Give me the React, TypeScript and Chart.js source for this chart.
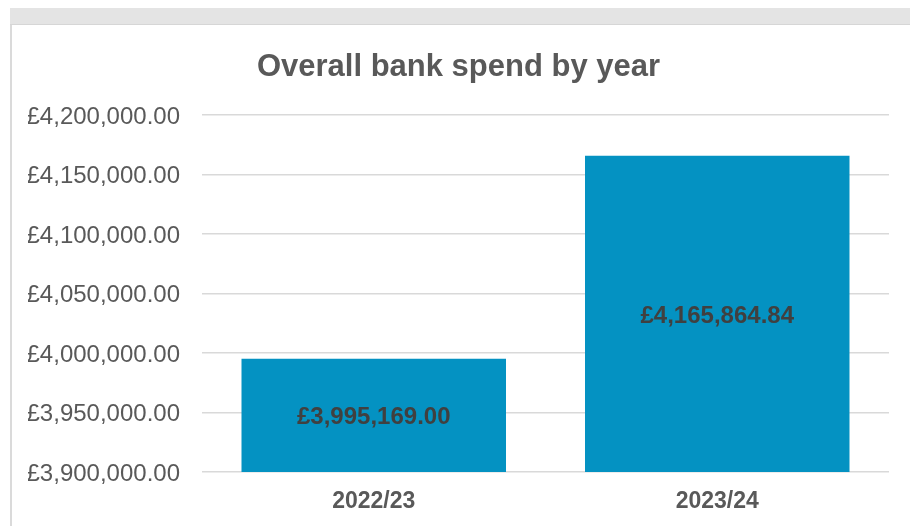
import React, { useEffect, useRef } from "react";
import { Chart, registerables } from "chart.js";

Chart.register(...registerables);

const categories: string[] = ["2022/23", "2023/24"];
const spendValues: number[] = [3995169.0, 4165864.84];
const axisMin = 3900000;
const axisMax = 4200000;
const axisStep = 50000;
const chartTitle = "Overall bank spend by year";

const FONT = "'Liberation Sans', Arial, sans-serif";

const fmt = (v: number) => {
  const fixed = Number(v).toFixed(2);
  const [intPart, dec] = fixed.split(".");
  const withCommas = intPart.replace(/\B(?=(\d{3})+(?!\d))/g, ",");
  return "£" + withCommas + "." + dec;
};

const dataLabelPlugin = {
  id: "barValueLabels",
  afterDraw(chart: any) {
    const ctx = chart.ctx;
    const xScale = chart.scales.x;
    const yScale = chart.scales.y;
    const values = chart.data.datasets[0].data as number[];
    ctx.save();
    ctx.font = "bold 24px " + FONT;
    ctx.fillStyle = "#404040";
    ctx.textAlign = "center";
    ctx.textBaseline = "middle";
    values.forEach((v: number, i: number) => {
      const x = xScale.getPixelForValue(i);
      const top = yScale.getPixelForValue(v);
      const base = yScale.getPixelForValue(axisMin);
      ctx.fillText(fmt(v), x, (top + base) / 2 + 2);
    });
    ctx.restore();
  },
};

export default function App() {
  const canvasRef = useRef<HTMLCanvasElement | null>(null);

  useEffect(() => {
    if (!canvasRef.current) return;
    const chart = new Chart(canvasRef.current, {
      type: "bar",
      data: {
        labels: categories,
        datasets: [
          {
            data: spendValues,
            backgroundColor: "#0492c2",
            borderWidth: 0,
            categoryPercentage: 1,
            barPercentage: 0.77,
          },
        ],
      },
      options: {
        animation: false,
        responsive: false,
        maintainAspectRatio: false,
        layout: { padding: { left: 16, right: 21, top: 0, bottom: 0 } },
        plugins: {
          legend: { display: false },
          tooltip: { enabled: false },
          title: {
            display: true,
            text: chartTitle,
            color: "#595959",
            font: { family: FONT, size: 31, weight: "bold" },
            padding: { top: 24, bottom: 29 },
          },
        },
        scales: {
          x: {
            grid: { display: false, drawTicks: false },
            border: { display: false },
            ticks: {
              color: "#595959",
              font: { family: FONT, size: 23, weight: "bold" },
              padding: 16,
            },
            afterFit: (scale: any) => {
              scale.height = 54;
            },
          },
          y: {
            min: axisMin,
            max: axisMax,
            grid: { color: "#d9d9d9", lineWidth: 1.5, drawTicks: false },
            border: { display: false },
            ticks: {
              stepSize: axisStep,
              color: "#595959",
              font: { family: FONT, size: 24 },
              padding: 22,
              labelOffset: 2,
              callback: (v: any) => fmt(Number(v)),
            },
            afterFit: (scale: any) => {
              scale.width = 174;
            },
          },
        },
      },
      plugins: [dataLabelPlugin],
    });
    return () => chart.destroy();
  }, []);

  return (
    <div
      style={{
        position: "fixed",
        left: 0,
        top: 0,
        width: 910,
        height: 526,
        background: "#ffffff",
        overflow: "hidden",
      }}
    >
      <div
        style={{
          position: "absolute",
          left: 10,
          top: 8,
          width: 900,
          height: 16,
          background: "#e4e4e4",
          borderBottom: "1px solid #d6d6d6",
        }}
      />
      <div
        style={{
          position: "absolute",
          left: 10,
          top: 25,
          width: 2,
          height: 501,
          background: "#dadada",
        }}
      />
      <canvas
        ref={canvasRef}
        width={898}
        height={501}
        style={{ position: "absolute", left: 12, top: 25, width: 898, height: 501 }}
      />
    </div>
  );
}
